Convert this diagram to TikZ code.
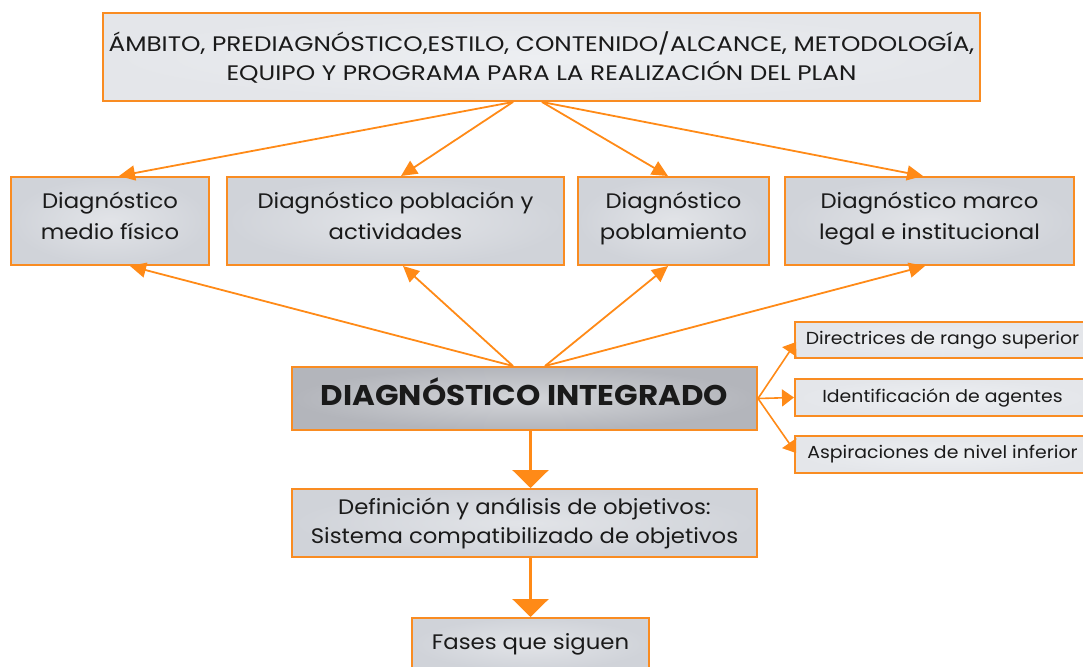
\documentclass[tikz,border=0pt]{standalone}
\usepackage{fontspec}
\setmainfont{Poppins}[FakeStretch=1.085]
\newfontfamily\topfont{Poppins}[FakeStretch=1.177]
\usetikzlibrary{arrows.meta,calc}
\definecolor{orng}{HTML}{FF8A17}
\definecolor{bordr}{HTML}{F98C22}
\definecolor{fillA}{HTML}{EDEFF2}
\definecolor{fillAo}{HTML}{E4E6EA}
\definecolor{fillB}{HTML}{E2E4E8}
\definecolor{fillBo}{HTML}{D0D3D9}
\definecolor{fillM}{HTML}{D3D5D9}
\definecolor{fillMo}{HTML}{B3B5BB}
\definecolor{txt}{HTML}{1A1A1A}
\begin{document}
\begin{tikzpicture}[x=1pt,y=-1pt,
  box/.style={draw=bordr, line width=2pt, inner sep=0pt, align=center, text=txt,
    font=\fontsize{21}{29}\selectfont, inner color=fillB, outer color=fillBo},
  rowbox/.style={box, font=\fontsize{21}{31}\selectfont, text height=36pt, text depth=0pt},
  topbox/.style={box, inner color=fillA, outer color=fillAo, font=\topfont\fontsize{21}{29}\selectfont},
  mainbox/.style={box, inner color=fillM, outer color=fillMo,
    font=\fontsize{28.5}{32}\selectfont\bfseries, text height=13pt, text depth=0pt},
  sidebox/.style={box, inner color=fillA, outer color=fillAo, font=\fontsize{17.4}{20}\selectfont},
  conn/.style={draw=orng, line width=1.8pt, -{Triangle[length=16pt,width=15pt]}},
  sconn/.style={draw=orng, line width=1.6pt, -{Triangle[length=12pt,width=17pt]}},
  bigconn/.style={draw=orng, line width=2.6pt, -{Triangle[length=18pt,width=36pt]}}
]
\path[use as bounding box] (0,0) rectangle (1083,666);

\node[topbox, minimum width=877pt, minimum height=88pt] (top) at (541.5,57)
  {ÁMBITO, PREDIAGNÓSTICO,ESTILO, CONTENIDO/ALCANCE, METODOLOGÍA,\\EQUIPO Y PROGRAMA PARA LA REALIZACIÓN DEL PLAN};

\node[rowbox, minimum width=198pt, minimum height=88pt] (b1) at (110,221) {Diagnóstico\\medio físico};
\node[rowbox, minimum width=337pt, minimum height=88pt] (b2) at (395.5,221) {Diagnóstico población y\\actividades};
\node[rowbox, minimum width=191pt, minimum height=88pt] (b3) at (673.5,221) {Diagnóstico\\poblamiento};
\node[rowbox, minimum width=289pt, minimum height=88pt] (b4) at (929.5,221) {Diagnóstico marco\\legal e institucional};

\node[mainbox, minimum width=465pt, minimum height=63pt] (main) at (524.5,398.5) {DIAGNÓSTICO INTEGRADO};

\node[sidebox, minimum width=295pt, minimum height=36pt] (ra) at (942.5,340) {Directrices de rango superior};
\node[sidebox, minimum width=295pt, minimum height=37pt] (rb) at (942.5,397.5) {Identificación de agentes};
\node[sidebox, minimum width=295pt, minimum height=37pt] (rc) at (942.5,454.5) {Aspiraciones de nivel inferior};

\node[box, minimum width=465pt, minimum height=68pt] (def) at (524.5,523)
  {Definición y análisis de objetivos:\\Sistema compatibilizado de objetivos};
\node[box, minimum width=237pt, minimum height=52pt, anchor=north] (fases) at (530.5,617) {Fases que siguen};

% top connectors
\coordinate (tl) at ($(top.south)+(-28.5,0)$);
\coordinate (tr) at ($(top.south)+(0.5,0)$);
\draw[conn] (tl) -- ($(b1.north)+(9,0)$);
\draw[conn] (tl) -- ($(b2.north)+(5.5,0)$);
\draw[conn] (tr) -- ($(b3.north)+(-5.5,0)$);
\draw[conn] (tr) -- ($(b4.north)+(-6.5,0)$);

% bottom connectors
\coordinate (ml) at ($(main.north)+(-11.5,0)$);
\coordinate (mr) at ($(main.north)+(20.5,0)$);
\draw[conn] (ml) -- ($(b1.south)+(20,0)$);
\draw[conn] (ml) -- ($(b2.south)+(7.5,0)$);
\draw[conn] (mr) -- ($(b3.south)+(-5.5,0)$);
\draw[conn] (mr) -- ($(b4.south)+(-4.5,0)$);

% side connectors
\draw[sconn] (main.east) -- ($(ra.west)+(2,2)$);
\draw[sconn] (main.east) -- (rb.west);
\draw[sconn] (main.east) -- ($(rc.west)+(2,-1.5)$);

% down connectors
\draw[bigconn] (main.south -| fases.north) -- (def.north -| fases.north);
\draw[bigconn] (def.south -| fases.north) -- (fases.north);
\end{tikzpicture}
\end{document}
